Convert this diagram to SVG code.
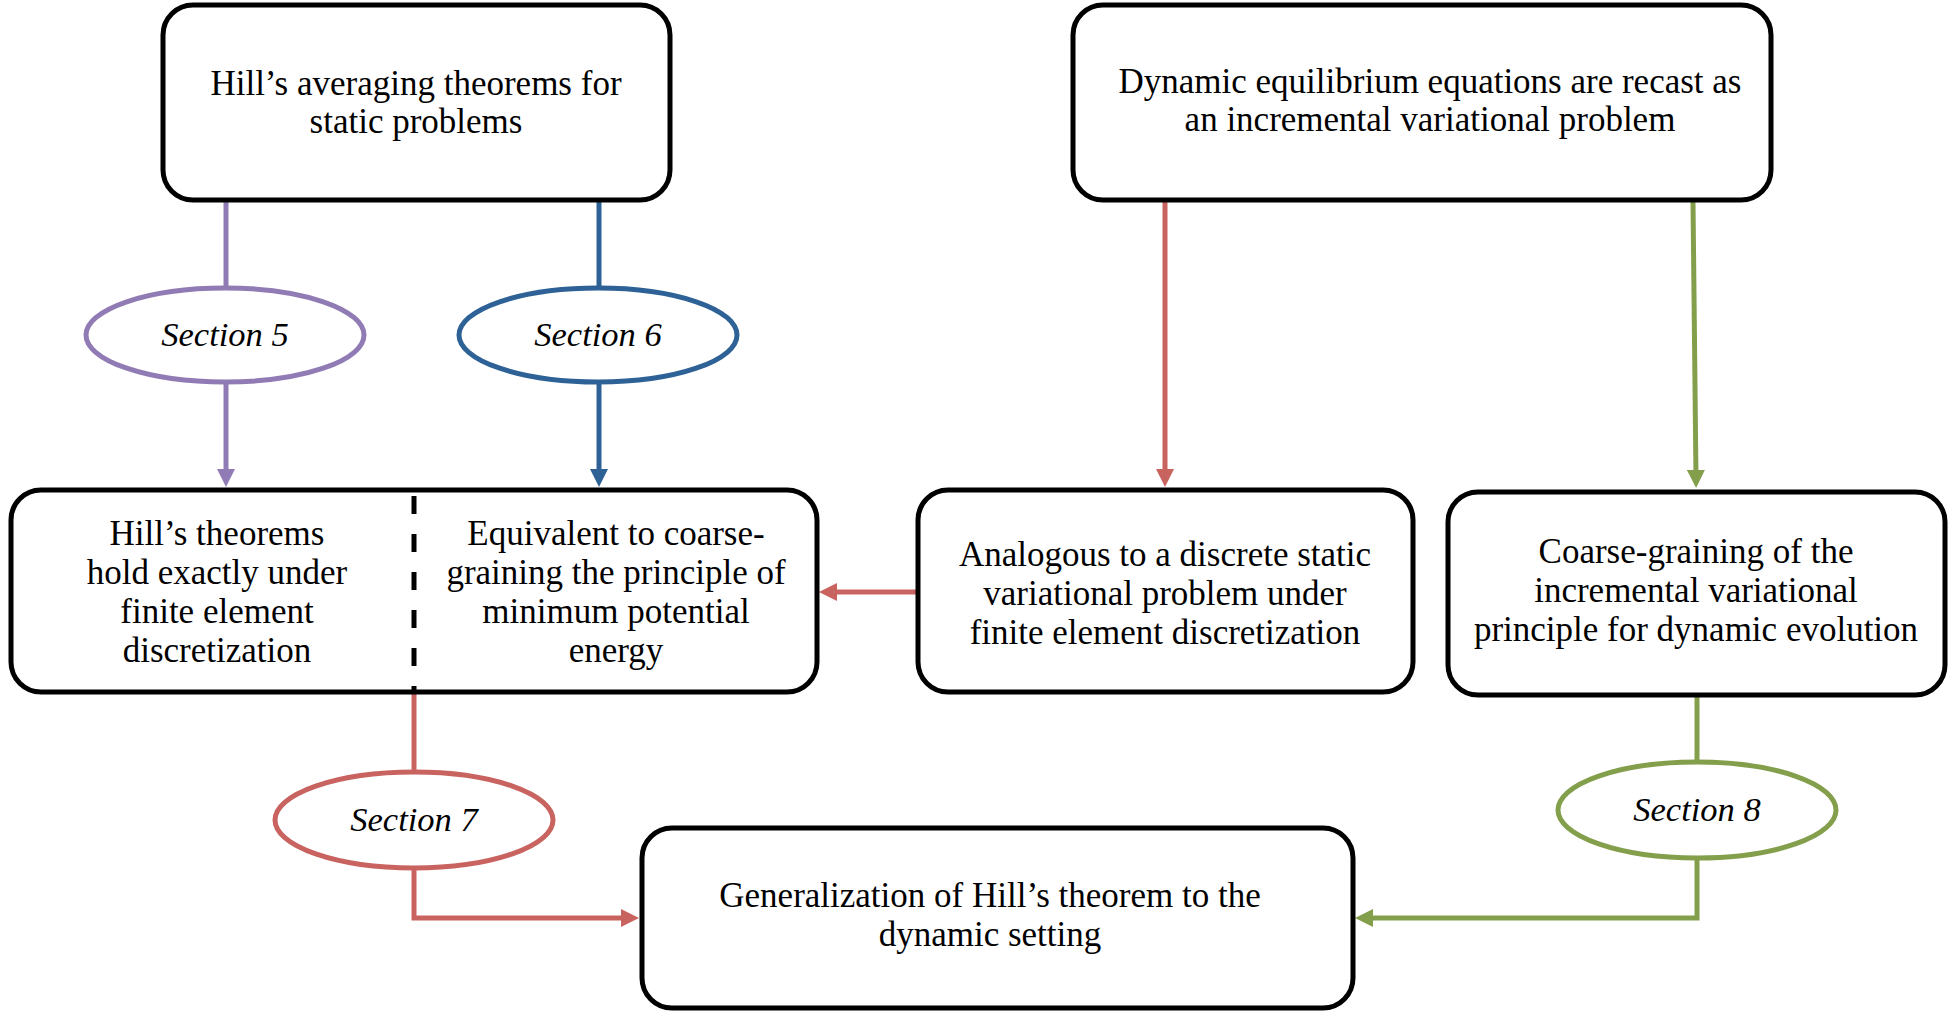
<svg xmlns="http://www.w3.org/2000/svg" width="1956" height="1016" viewBox="0 0 1956 1016">
<style>
  .box { fill: #ffffff; stroke: #000000; stroke-width: 5; }
  .t { font-family: "Liberation Serif", "Times New Roman", serif; font-size: 35px; fill: #000000; text-anchor: middle; }
  .sec { font-family: "Liberation Serif", "Times New Roman", serif; font-size: 34.5px; font-style: italic; fill: #000000; text-anchor: middle; }
  .ell { fill: #ffffff; stroke-width: 5; }
  .c { fill: none; stroke-width: 5; }
  .purple { stroke: #917BB4; }
  .blue { stroke: #2E6296; }
  .red { stroke: #C8635F; }
  .green { stroke: #849F4C; }
</style>
<defs>
  <marker id="ap" viewBox="0 0 18 18" refX="8" refY="9" markerWidth="18" markerHeight="18" markerUnits="userSpaceOnUse" orient="auto"><path d="M0,0 L18,9 L0,18 z" fill="#917BB4"/></marker>
  <marker id="ab" viewBox="0 0 18 18" refX="8" refY="9" markerWidth="18" markerHeight="18" markerUnits="userSpaceOnUse" orient="auto"><path d="M0,0 L18,9 L0,18 z" fill="#2E6296"/></marker>
  <marker id="ar" viewBox="0 0 18 18" refX="8" refY="9" markerWidth="18" markerHeight="18" markerUnits="userSpaceOnUse" orient="auto"><path d="M0,0 L18,9 L0,18 z" fill="#C8635F"/></marker>
  <marker id="ag" viewBox="0 0 18 18" refX="8" refY="9" markerWidth="18" markerHeight="18" markerUnits="userSpaceOnUse" orient="auto"><path d="M0,0 L18,9 L0,18 z" fill="#849F4C"/></marker>
</defs>
<rect width="1956" height="1016" fill="#ffffff"/>

<g id="connectors">
  <path class="c purple" d="M226,202 L226,288"/>
  <path class="c purple" d="M226,382 L226,477" marker-end="url(#ap)"/>
  <path class="c blue" d="M599,202 L599,288"/>
  <path class="c blue" d="M599,382 L599,477" marker-end="url(#ab)"/>
  <path class="c red" d="M1165,202 L1165,477" marker-end="url(#ar)"/>
  <path class="c green" d="M1693,202 L1696,478" marker-end="url(#ag)"/>
  <path class="c red" d="M916,592 L829,592" marker-end="url(#ar)"/>
  <path class="c red" d="M414,692 L414,772"/>
  <path class="c red" d="M414,868 L414,918 L629,918" marker-end="url(#ar)"/>
  <path class="c green" d="M1697,697 L1697,762"/>
  <path class="c green" d="M1697,858 L1697,918 L1365,918" marker-end="url(#ag)"/>
</g>

<g id="hill-static">
  <rect class="box" x="163" y="5" width="507" height="195" rx="30"/>
  <text class="t" x="416" y="95">Hill’s averaging theorems for</text>
  <text class="t" x="416" y="133">static problems</text>
</g>

<g id="dynamic-equilibrium">
  <rect class="box" x="1073" y="5" width="698" height="195" rx="30"/>
  <text class="t" x="1430" y="93">Dynamic equilibrium equations are recast as</text>
  <text class="t" x="1430" y="131">an incremental variational problem</text>
</g>

<g id="section5">
  <ellipse class="ell purple" cx="225" cy="335" rx="139" ry="47"/>
  <text class="sec" x="225" y="346">Section 5</text>
</g>

<g id="section6">
  <ellipse class="ell blue" cx="598" cy="335" rx="139" ry="47"/>
  <text class="sec" x="598" y="346">Section 6</text>
</g>

<g id="split-box">
  <rect class="box" x="11" y="490" width="806" height="202" rx="30"/>
  <line x1="414" y1="492" x2="414" y2="690" stroke="#000000" stroke-width="5" stroke-dasharray="18 20" stroke-dashoffset="-4"/>
  <text class="t" x="217" y="545">Hill’s theorems</text>
  <text class="t" x="217" y="584">hold exactly under</text>
  <text class="t" x="217" y="623">finite element</text>
  <text class="t" x="217" y="662">discretization</text>
  <text class="t" x="616" y="545">Equivalent to coarse-</text>
  <text class="t" x="616" y="584">graining the principle of</text>
  <text class="t" x="616" y="623">minimum potential</text>
  <text class="t" x="616" y="662">energy</text>
</g>

<g id="analogous">
  <rect class="box" x="918" y="490" width="495" height="202" rx="30"/>
  <text class="t" x="1165" y="566">Analogous to a discrete static</text>
  <text class="t" x="1165" y="605">variational problem under</text>
  <text class="t" x="1165" y="644">finite element discretization</text>
</g>

<g id="coarse-graining">
  <rect class="box" x="1448" y="492" width="497" height="203" rx="30"/>
  <text class="t" x="1696" y="563">Coarse-graining of the</text>
  <text class="t" x="1696" y="602">incremental variational</text>
  <text class="t" x="1696" y="641">principle for dynamic evolution</text>
</g>

<g id="section7">
  <ellipse class="ell red" cx="414" cy="820" rx="139" ry="48"/>
  <text class="sec" x="414" y="831">Section 7</text>
</g>

<g id="section8">
  <ellipse class="ell green" cx="1697" cy="810" rx="139" ry="48"/>
  <text class="sec" x="1697" y="821">Section 8</text>
</g>

<g id="generalization">
  <rect class="box" x="642" y="828" width="711" height="180" rx="30"/>
  <text class="t" x="990" y="907">Generalization of Hill’s theorem to the</text>
  <text class="t" x="990" y="946">dynamic setting</text>
</g>
</svg>
